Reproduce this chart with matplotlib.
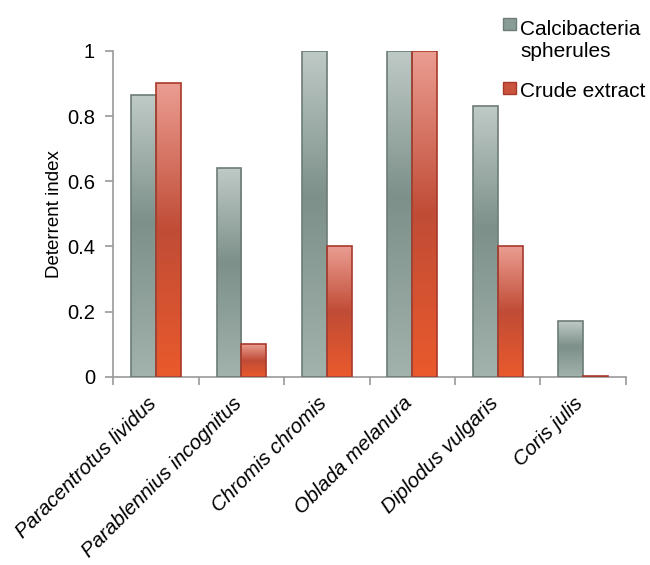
import numpy as np
import matplotlib
matplotlib.use("Agg")
import matplotlib.pyplot as plt
from matplotlib.colors import LinearSegmentedColormap
from matplotlib.patches import Rectangle
from matplotlib.ticker import FuncFormatter
from matplotlib.transforms import ScaledTranslation

species = ["Paracentrotus lividus", "Parablennius incognitus", "Chromis chromis",
           "Oblada melanura", "Diplodus vulgaris", "Coris julis"]
spherules = [0.865, 0.64, 1.0, 1.0, 0.83, 0.17]
crude = [0.90, 0.10, 0.40, 1.0, 0.40, 0.004]
series_names = ["Calcibacteria\nspherules", "Crude extract"]

plt.rcParams["font.family"] = ["Liberation Sans", "DejaVu Sans"]

gray_cmap = LinearSegmentedColormap.from_list(
    "g", [(0.0, "#a2b2ac"), (0.55, "#7d908a"), (1.0, "#bfcac6")])
red_cmap = LinearSegmentedColormap.from_list(
    "r", [(0.0, "#ea5a2c"), (0.5, "#c04c36"), (1.0, "#eb9d92")])
gray_edge = "#6d7c77"
red_edge = "#a8392a"
axis_col = "#9a9a9a"

W, H = 650, 565
fig = plt.figure(figsize=(W / 100, H / 100), dpi=100)
ax = fig.add_axes([0.174, 0.333, 0.789, 0.577])

n = len(species)
x = np.arange(n)
w = 0.29
grad = np.linspace(0, 1, 256).reshape(-1, 1)

for vals, offset, cmap, edge in [(spherules, -w / 2, gray_cmap, gray_edge),
                                 (crude, w / 2, red_cmap, red_edge)]:
    bars = ax.bar(x + offset, vals, width=w, facecolor="none",
                  edgecolor=edge, linewidth=1.2, zorder=3)
    for b in bars:
        h = b.get_height()
        if h <= 0:
            continue
        x0 = b.get_x()
        im = ax.imshow(grad, cmap=cmap, origin="lower", aspect="auto",
                       extent=(x0, x0 + b.get_width(), 0, h), zorder=2,
                       interpolation="bilinear")
        im.set_clip_path(b)

ax.set_xlim(-0.5, n - 0.5)
ax.set_ylim(0, 1)
ax.set_yticks([0, 0.2, 0.4, 0.6, 0.8, 1.0])
ax.yaxis.set_major_formatter(FuncFormatter(lambda v, p: f"{v:g}"))
ax.set_xticks(np.arange(n + 1) - 0.5)
ax.set_xticklabels([])
ax.set_xticks(x, minor=True)
ax.set_xticklabels(species, minor=True, rotation=45, ha="right", va="center",
                   rotation_mode="anchor", fontstyle="italic", fontsize=14.8)
ax.tick_params(axis="x", which="minor", length=0, pad=17)
ax.tick_params(axis="x", which="major", length=6, color=axis_col, width=1.2)
ax.tick_params(axis="y", length=6, color=axis_col, width=1.2, labelsize=14.5, pad=7)
shift = ScaledTranslation(-2 / 72, 0, fig.dpi_scale_trans)
for lbl in ax.get_xticklabels(minor=True):
    lbl.set_transform(lbl.get_transform() + shift)

for s in ["top", "right"]:
    ax.spines[s].set_visible(False)
for s in ["left", "bottom"]:
    ax.spines[s].set_color(axis_col)
    ax.spines[s].set_linewidth(1.2)

ax.set_ylabel("Deterrent index", fontsize=13.5, labelpad=3)

# legend drawn in figure pixel coordinates (y measured from the top);
# the text position is the baseline of its last line
legend_items = [("#8a9c96", gray_edge, 18, 57, series_names[0]),
                ("#c9533d", red_edge, 82, 97, series_names[1])]
for face, edge, top, baseline, label in legend_items:
    fig.patches.append(Rectangle((503 / W, 1 - (top + 12) / H), 13 / W, 12 / H,
                                 transform=fig.transFigure, facecolor=face,
                                 edgecolor=edge, linewidth=1.0))
    fig.text(520 / W, 1 - baseline / H, label, ha="left", va="baseline",
             fontsize=15, linespacing=1.22)

fig.savefig("out.png", dpi=100)
